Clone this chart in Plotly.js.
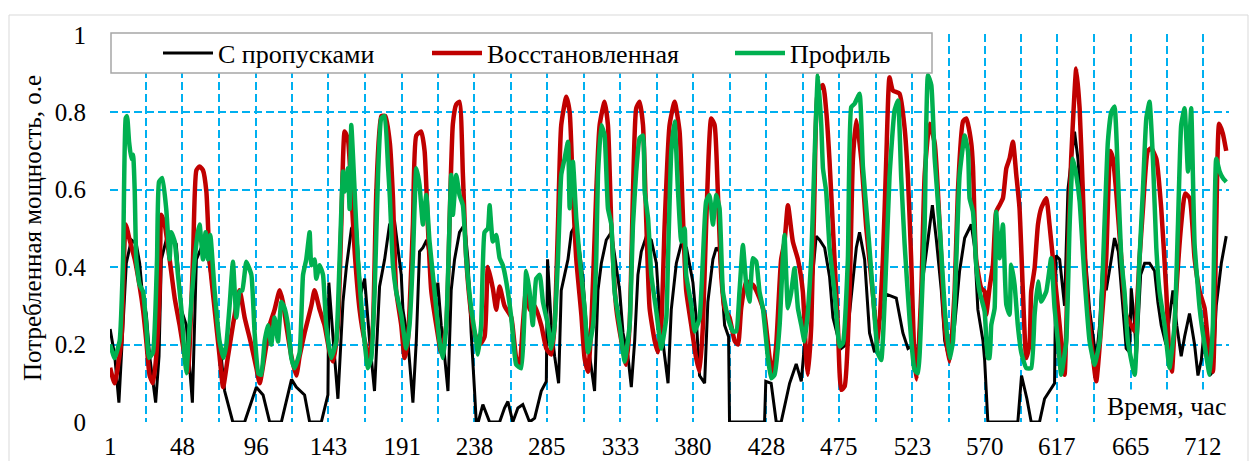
<!DOCTYPE html>
<html>
<head>
<meta charset="utf-8">
<script src="https://cdn.plot.ly/plotly-3.0.1.min.js"></script>
<style>
html,body{margin:0;padding:0;background:#fff;}
#chart{width:1249px;height:461px;}
</style>
</head>
<body>
<div id="chart"></div>
<script>
// ---- Data ----
const seriesNames = ["С пропусками", "Восстановленная", "Профиль"];
const xTickLabels = [1, 48, 96, 143, 191, 238, 285, 333, 380, 428, 475, 523, 570, 617, 665, 712];
const yTickValues = [0, 0.2, 0.4, 0.6, 0.8, 1];

const hoursBlack = [1,4,6.7,8.3,11.5,14.8,18,20.2,22.4,24.5,26.7,30.6,32.8,34.3,37.5,40.8,44,47.3,50.6,54.5,57.1,60.3,63.6,67.9,72.2,75.5,80.8,88.5,96.1,100.5,104.8,112.4,119,122.1,127.5,130.8,138.4,142.7,143.3,146,149.2,152.5,154.7,158,161,164,166.6,169.8,173,176.3,179.6,182.8,186,190.4,191.5,194.7,198,200.2,202.3,204.5,207,210,212,214.2,216.4,218.6,220.8,222.9,225.1,228.3,231.6,233.8,235.9,238.1,239.2,240.5,243.5,247.9,254.4,257.6,259.8,263,266.3,269.5,273.9,277.2,279.4,281.5,284.8,285.6,288,290.2,292.8,294.5,296.7,298.9,301.1,304,306.5,308.6,310.8,313,316.2,318.4,320.6,323.8,327.1,330.3,332.5,334.7,337.9,340.1,342.3,344.4,346.6,349.9,353.1,356.4,358.5,361.8,364,366.1,369.4,372.6,376,380.2,382.3,384.5,387.8,389.9,393.2,395.4,397.5,400.8,403.4,404,426.8,427.6,431.1,434.4,437.6,443.1,447.4,450.7,453.9,457.2,460.4,462.6,465.9,469.1,471.3,474.5,476.7,480,483.2,486.5,488.6,491.9,495.1,498.4,501.6,506,512.5,516.8,520.1,524.4,526.6,528.8,533.1,536,538.6,541.8,544,547.2,550.5,553.7,557,561.3,563.5,565.6,568.9,570,572.1,591.6,594,597.5,600.3,605.7,609,612.2,615.5,616.4,618.8,622,624.2,628.5,630.7,633.9,638.3,642.6,644.8,647,649.1,652.4,654.5,657,660,662.1,664.3,665.4,667.6,668.7,671.5,674.1,677.3,680.6,682.7,684.9,688,692.5,695,697.9,700.1,703.3,706.6,708.8,711,713.1,716.4,718.5,720.7,724,727.2];
const valuesBlack = [0.24,0.17,0.05,0.17,0.41,0.47,0.46,0.41,0.31,0.28,0.17,0.05,0.17,0.42,0.47,0.48,0.46,0.29,0.25,0.05,0.42,0.45,0.46,0.34,0.21,0.08,0,0,0.09,0.07,0,0,0.11,0.09,0.07,0,0,0.07,0.36,0.22,0.06,0.31,0.40,0.50,0.52,0.33,0.37,0.21,0.08,0.35,0.42,0.51,0.52,0.38,0.29,0.21,0.05,0.21,0.44,0.45,0.47,0.40,0.30,0.36,0.25,0.17,0.08,0.34,0.42,0.49,0.51,0.42,0.23,0.08,0,0,0.045,0,0,0.036,0.053,0,0.036,0.045,0,0.01,0.045,0.08,0.105,0.42,0.25,0.17,0.1,0.34,0.38,0.42,0.49,0.51,0.44,0.37,0.25,0.17,0.08,0.34,0.41,0.47,0.49,0.40,0.34,0.23,0.17,0.09,0.21,0.38,0.44,0.48,0.47,0.41,0.28,0.17,0.1,0.29,0.41,0.46,0.45,0.36,0.27,0.12,0.1,0.31,0.42,0.45,0.44,0.25,0.22,0,0,0.105,0.1,0,0,0.1,0.15,0.105,0.25,0.34,0.48,0.47,0.45,0.375,0.27,0.22,0.19,0.2,0.33,0.45,0.49,0.42,0.23,0.18,0.26,0.33,0.32,0.23,0.19,0.2,0.16,0.34,0.47,0.56,0.47,0.34,0.21,0.16,0.25,0.39,0.475,0.51,0.45,0.29,0.21,0.16,0,0,0.12,0.06,0,0,0.06,0.08,0.1,0.43,0.42,0.30,0.6,0.75,0.68,0.51,0.29,0.16,0.25,0.42,0.34,0.42,0.475,0.44,0.29,0.19,0.18,0.345,0.25,0.165,0.38,0.41,0.41,0.39,0.31,0.25,0.2,0.34,0.25,0.17,0.22,0.28,0.2,0.12,0.16,0.25,0.12,0.13,0.3,0.41,0.48];

const hoursRed = [1,3.9,8.3,11.1,13.7,17,20.2,22.4,24.5,26.7,28.9,31,33.2,34.3,36.5,39.7,43,46.2,49.5,51.6,54.9,57.1,59.2,61.4,63.6,65.7,69,72.2,74.5,77.7,80.9,85.2,88.5,92.8,96.1,98.3,101.5,104.8,108,111.3,113.4,115.6,118.9,122.1,124.3,127.5,131.9,134,137.3,140.5,143.8,146,149.2,151.4,153.6,155.7,157.9,160.1,163.3,166.6,169.8,172,174.2,177.4,180,183,185,187.1,190.4,192.6,194.7,198,200.2,203.4,205.6,207.7,209.9,213.2,216.4,219.7,221.8,224,226.2,228.3,230.5,232.7,235.9,238.1,241.4,244.6,246.8,250,252.2,254.4,257.6,262,265.2,267.4,269.5,271.7,273.9,277.2,281.5,284.8,288,290.2,292.4,294.5,297.8,300,302.1,304.3,307.6,309.7,311.9,314.1,317.3,319.5,322.7,324.9,327.1,330.3,333.6,336.8,339,341.2,343.3,345.5,347.7,349.9,352,355.3,357.4,359.6,361.8,365,368.3,371.5,373.5,375.8,379.1,382.3,384.5,386.7,388.8,392.1,394.3,396.4,398.6,400.8,404,407.3,409.5,411.6,414.9,419.2,423.5,426.8,430.1,432.2,434.4,437.6,439.8,442,445.2,448.5,451.7,453.9,455,457.2,459.3,461.5,464.8,467,469,471.3,474.5,476.7,478.9,482.1,484.3,486.5,489.7,493,497.3,500.5,503.8,506,508.1,510.3,514.6,517.9,520.1,522.2,524.4,525.8,528.8,531,534.2,537.5,540.7,544,547.2,550.5,552.6,555.9,558.1,561.3,562.4,564.5,567.8,570,571,573.2,575.4,577.5,579.7,581.9,584.1,586.2,588.4,590.6,592.7,594.9,597.1,599.2,600.3,602.5,604.7,606.8,610.1,612.2,614.4,618.8,622,624.2,626.3,628.5,629.6,631.8,633.9,636.1,639.4,642.6,645.9,649.1,651.8,653.5,655.6,658.9,662.1,665.4,667.6,670.8,673,676.2,678.4,681.7,684.9,688.2,690.3,691.8,694.7,697.9,700.5,703.4,706.6,709.9,713.1,716.4,718.5,720.7,722.6,725,727.2];
const valuesRed = [0.14,0.10,0.21,0.51,0.47,0.42,0.35,0.29,0.21,0.12,0.10,0.17,0.34,0.535,0.51,0.42,0.32,0.25,0.17,0.13,0.42,0.65,0.66,0.65,0.595,0.42,0.29,0.17,0.09,0.17,0.25,0.34,0.27,0.2,0.14,0.1,0.17,0.25,0.29,0.34,0.31,0.25,0.17,0.12,0.17,0.23,0.30,0.34,0.29,0.25,0.18,0.156,0.25,0.51,0.75,0.73,0.595,0.44,0.29,0.21,0.165,0.25,0.595,0.79,0.79,0.72,0.58,0.34,0.25,0.165,0.21,0.51,0.74,0.75,0.70,0.51,0.34,0.25,0.18,0.25,0.51,0.77,0.82,0.827,0.64,0.42,0.28,0.23,0.2,0.22,0.40,0.345,0.29,0.35,0.30,0.27,0.165,0.148,0.25,0.345,0.29,0.3,0.25,0.19,0.174,0.25,0.51,0.767,0.84,0.80,0.595,0.42,0.277,0.165,0.13,0.25,0.595,0.767,0.827,0.767,0.51,0.294,0.21,0.148,0.25,0.595,0.81,0.827,0.767,0.51,0.294,0.21,0.18,0.25,0.51,0.767,0.827,0.75,0.55,0.34,0.25,0.165,0.13,0.25,0.51,0.784,0.767,0.595,0.38,0.294,0.27,0.21,0.2,0.294,0.363,0.354,0.32,0.277,0.165,0.122,0.2,0.42,0.466,0.56,0.466,0.42,0.337,0.165,0.122,0.25,0.595,0.853,0.87,0.8,0.68,0.50,0.25,0.083,0.092,0.33,0.68,0.78,0.68,0.50,0.33,0.2,0.42,0.68,0.89,0.856,0.848,0.76,0.63,0.42,0.16,0.11,0.34,0.64,0.77,0.72,0.51,0.25,0.156,0.34,0.595,0.776,0.784,0.72,0.66,0.42,0.346,0.337,0.277,0.346,0.406,0.543,0.56,0.578,0.655,0.68,0.724,0.638,0.552,0.337,0.165,0.2,0.337,0.397,0.51,0.552,0.578,0.51,0.423,0.25,0.122,0.423,0.68,0.853,0.913,0.81,0.595,0.354,0.208,0.105,0.25,0.423,0.70,0.68,0.595,0.423,0.277,0.25,0.234,0.423,0.55,0.70,0.707,0.68,0.552,0.337,0.165,0.13,0.337,0.51,0.59,0.578,0.423,0.337,0.294,0.165,0.13,0.51,0.77,0.745,0.70];

const hoursGreen = [1,3.9,7.2,9.4,11.1,12,13.3,14.8,15.9,17,18,20.2,22.4,24.5,26.3,28.9,31.5,32.8,35,37.5,39.7,40.8,43,45.1,47.3,49.5,50.6,52.7,56,58.1,59.2,61.4,63.1,64.7,66.2,69,72.2,74.8,76.6,78.7,80.9,83.1,85.2,87,89.6,92.9,95,97.5,99.3,101.5,103.7,105.8,108,110.2,112.4,114.5,116.7,118.9,121,124.3,126.5,128.6,130.8,131.9,134,135.1,137.3,139.5,141.6,144.9,148.1,150.3,152.5,153.6,155.7,156.8,157.9,160.1,162.2,165.5,168.7,170.9,173.1,175.3,177.4,179.6,181.8,183,185,187.1,190.4,193.6,195.8,198,200.2,202.3,204.5,206.7,208.8,212.1,215.3,217.5,219.7,221.8,222.9,224,226.2,228.3,230.5,232.7,235.9,239.2,240.3,242.4,244.6,246.8,247.9,250,252.2,254.4,256.5,258.7,262,265.2,268.5,270.6,271.7,273.9,276,278.2,280.5,282.6,285.9,288,290.2,292.4,294.5,296.7,298.9,300,302.1,304.3,306.5,309.7,311.9,315.2,317.3,318.4,320.6,322.7,324.9,327.1,329.2,332.5,335.8,339,341.2,343.3,345.5,347.7,348.8,351,353.1,356.4,359.6,362.9,364,366.1,368.3,370.5,372.6,374.8,375.8,379.1,381.3,384.5,386.7,388.8,391,393.2,395.4,397.5,399.7,403,406.2,408.4,410.5,412.7,414.9,417,419.2,421.4,423.5,425.7,429,431.1,433.3,436.6,438.7,439.8,442,444.2,446.3,448.5,450.7,452.8,455,457.2,459.3,461.5,463.7,464.8,466.9,469.1,472.4,475.6,477.8,481,483.2,485.4,488.6,490.8,494,497.3,500.5,502.7,506,508.1,511.4,513.6,515.7,517.9,521.2,524.4,526.6,529,531,532,533.1,535.3,537.5,540.7,544,547.2,549.4,551.6,553.7,557,559.2,560.2,562.4,564.5,566.7,570,572.1,573.2,574.3,576.5,577.5,579.7,581.9,584.1,586.2,587.3,589.5,591.6,593.8,597.1,600.3,602.5,604.7,606.8,610.1,613.3,615.5,617.7,619.8,623.1,625.3,627.4,629.6,631.8,635,638.3,641.5,644.8,648,650.2,652.4,654.5,656.7,658.9,661,663.2,667.6,670.8,673,675.2,677.3,679.5,681.7,683.8,687.1,690.3,693.6,695.8,697.9,700.1,702.3,704.4,706.6,709.9,713.1,716.4,718.5,720.7,722.9,725,727.2];
const valuesGreen = [0.20,0.165,0.21,0.42,0.784,0.79,0.724,0.68,0.69,0.595,0.42,0.354,0.337,0.25,0.165,0.18,0.42,0.62,0.63,0.55,0.42,0.49,0.466,0.38,0.294,0.165,0.126,0.25,0.42,0.49,0.51,0.42,0.49,0.42,0.483,0.337,0.208,0.165,0.2,0.3,0.414,0.27,0.337,0.34,0.414,0.38,0.23,0.125,0.122,0.208,0.25,0.2,0.27,0.208,0.31,0.294,0.25,0.165,0.139,0.18,0.38,0.42,0.49,0.405,0.42,0.37,0.405,0.38,0.25,0.165,0.208,0.42,0.647,0.595,0.655,0.55,0.767,0.595,0.42,0.25,0.139,0.165,0.337,0.638,0.784,0.79,0.66,0.58,0.405,0.337,0.277,0.19,0.25,0.423,0.655,0.612,0.51,0.586,0.466,0.337,0.208,0.165,0.25,0.51,0.638,0.535,0.638,0.586,0.56,0.423,0.294,0.208,0.174,0.25,0.49,0.5,0.56,0.466,0.483,0.423,0.405,0.363,0.27,0.148,0.139,0.285,0.39,0.337,0.25,0.37,0.38,0.31,0.25,0.19,0.25,0.423,0.638,0.68,0.724,0.552,0.672,0.526,0.423,0.294,0.18,0.25,0.423,0.638,0.767,0.74,0.552,0.51,0.337,0.25,0.156,0.25,0.51,0.647,0.733,0.74,0.595,0.526,0.38,0.285,0.19,0.27,0.423,0.698,0.776,0.595,0.466,0.50,0.38,0.303,0.234,0.268,0.423,0.57,0.586,0.51,0.586,0.552,0.337,0.268,0.234,0.234,0.337,0.457,0.354,0.311,0.423,0.414,0.337,0.294,0.165,0.113,0.122,0.25,0.423,0.483,0.294,0.337,0.397,0.294,0.25,0.208,0.285,0.423,0.68,0.896,0.767,0.655,0.595,0.45,0.332,0.195,0.204,0.418,0.813,0.822,0.848,0.659,0.504,0.332,0.178,0.16,0.418,0.633,0.805,0.83,0.633,0.461,0.263,0.134,0.126,0.3,0.51,0.767,0.896,0.87,0.68,0.51,0.294,0.165,0.208,0.423,0.638,0.74,0.698,0.578,0.543,0.406,0.337,0.285,0.165,0.165,0.25,0.294,0.543,0.423,0.51,0.303,0.277,0.406,0.354,0.25,0.18,0.139,0.139,0.277,0.363,0.311,0.337,0.423,0.294,0.208,0.122,0.208,0.51,0.68,0.638,0.57,0.371,0.208,0.148,0.208,0.51,0.724,0.80,0.815,0.638,0.423,0.337,0.208,0.122,0.423,0.6,0.784,0.827,0.68,0.45,0.337,0.25,0.14,0.25,0.51,0.767,0.81,0.647,0.81,0.46,0.294,0.2,0.122,0.25,0.68,0.647,0.63,0.62];

const seriesColors = ["#000000", "#C00000", "#00B050"];

// ---- Geometry helpers (paper coordinates) ----
const W = 1249, H = 461;
const M = {l: 110, r: 20, t: 34, b: 39};
const PW = W - M.l - M.r, PH = H - M.t - M.b;
const px = p => (p - M.l) / PW;
const py = p => (H - M.b - p) / PH;

const xGridVals = [], xGridText = [];
xTickLabels.forEach((v, i) => {
  xGridVals.push(v); xGridText.push(String(v));
  if (i < xTickLabels.length - 1) { xGridVals.push((v + xTickLabels[i + 1]) / 2); xGridText.push(""); }
});

const gridColor = "#00B0F0";
const FONT = "Liberation Serif, Times New Roman, serif";

const traces = [
  {x: hoursBlack, y: valuesBlack, name: seriesNames[0], line: {color: seriesColors[0], width: 3}, legendwidth: 204},
  {x: hoursRed, y: valuesRed, name: seriesNames[1], line: {color: seriesColors[1], width: 4.5, shape: "spline", smoothing: 0.5}, legendwidth: 238},
  {x: hoursGreen, y: valuesGreen, name: seriesNames[2], line: {color: seriesColors[2], width: 4.5, shape: "spline", smoothing: 0.4}}
].map(t => Object.assign({type: "scatter", mode: "lines", hoverinfo: "skip"}, t));

const layout = {
  width: W, height: H,
  margin: M,
  paper_bgcolor: "#fff", plot_bgcolor: "#fff",
  font: {family: FONT, size: 25, color: "#000"},
  showlegend: true,
  legend: {
    orientation: "h", x: px(158), xanchor: "left", y: py(53), yanchor: "middle",
    itemwidth: 50,
    bgcolor: "rgba(0,0,0,0)", borderwidth: 0, font: {family: FONT, size: 26, color: "#000"},
    traceorder: "normal"
  },
  xaxis: {
    range: [0.9, 729], showline: false, zeroline: false,
    tickmode: "array", tickvals: xGridVals, ticktext: xGridText,
    ticks: "outside", ticklen: 2, tickcolor: "rgba(0,0,0,0)",
    showgrid: true, gridcolor: gridColor, gridwidth: 2, griddash: "8px,4px",
    tickfont: {family: FONT, size: 25, color: "#000"}
  },
  yaxis: {
    range: [0, 1.002], showline: false, zeroline: false,
    tickmode: "array", tickvals: yTickValues, ticktext: yTickValues.map(String),
    ticks: "outside", ticklen: 18, tickcolor: "rgba(0,0,0,0)",
    showgrid: true, gridcolor: gridColor, gridwidth: 2, griddash: "8px,4px",
    tickfont: {family: FONT, size: 25, color: "#000"},
    title: {text: "Потребленная мощность, о.е", font: {family: FONT, size: 25, color: "#000"}, standoff: 6}
  },
  shapes: [
    {type: "rect", xref: "paper", yref: "paper", x0: px(9), x1: px(1248), y0: py(470), y1: py(15),
     line: {color: "#d9d9d9", width: 1}, fillcolor: "rgba(0,0,0,0)", layer: "below"},
    {type: "rect", xref: "paper", yref: "paper", x0: px(111), x1: px(932), y0: py(73), y1: py(33),
     line: {color: "#a6a6a6", width: 1.5}, fillcolor: "#ffffff", layer: "above"}
  ],
  annotations: [
    {text: "Время, час", xref: "paper", yref: "paper", x: px(1229), y: py(424), xanchor: "right", yanchor: "bottom",
     showarrow: false, bgcolor: "#ffffff", borderpad: 2, font: {family: FONT, size: 26, color: "#000"}}
  ]
};

Plotly.newPlot("chart", traces, layout, {staticPlot: true, displayModeBar: false});
</script>
</body>
</html>
